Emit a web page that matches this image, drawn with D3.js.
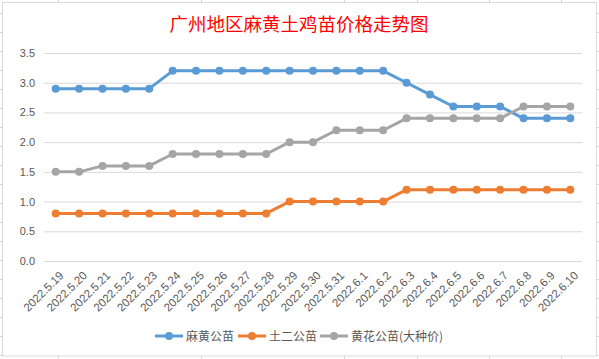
<!DOCTYPE html>
<html>
<head>
<meta charset="utf-8">
<script src="https://cdn.jsdelivr.net/npm/d3@7"></script>
<style>
  body { margin: 0; background: #fff; }
  svg { display: block; font-family: "Noto Sans CJK SC", "Noto Sans", sans-serif; }
</style>
</head>
<body>
<div class="chart-div"></div>
<script>
var dates = ['2022.5.19', '2022.5.20', '2022.5.21', '2022.5.22', '2022.5.23', '2022.5.24',
             '2022.5.25', '2022.5.26', '2022.5.27', '2022.5.28', '2022.5.29', '2022.5.30',
             '2022.5.31', '2022.6.1', '2022.6.2', '2022.6.3', '2022.6.4', '2022.6.5',
             '2022.6.6', '2022.6.7', '2022.6.8', '2022.6.9', '2022.6.10'];
var mahuang = [2.9, 2.9, 2.9, 2.9, 2.9, 3.2, 3.2, 3.2, 3.2, 3.2, 3.2, 3.2,
               3.2, 3.2, 3.2, 3.0, 2.8, 2.6, 2.6, 2.6, 2.4, 2.4, 2.4];
var tuer = [0.8, 0.8, 0.8, 0.8, 0.8, 0.8, 0.8, 0.8, 0.8, 0.8, 1.0, 1.0,
            1.0, 1.0, 1.0, 1.2, 1.2, 1.2, 1.2, 1.2, 1.2, 1.2, 1.2];
var huanghua = [1.5, 1.5, 1.6, 1.6, 1.6, 1.8, 1.8, 1.8, 1.8, 1.8, 2.0, 2.0,
                2.2, 2.2, 2.2, 2.4, 2.4, 2.4, 2.4, 2.4, 2.6, 2.6, 2.6];
var series_names = ['麻黄公苗', '土二公苗', '黄花公苗(大种价)'];
var y_ticks = [0, 0.5, 1.0, 1.5, 2.0, 2.5, 3.0, 3.5];
var title_text = '广州地区麻黄土鸡苗价格走势图';

var w = 599, h = 359,
    plot_left = 44, plot_right = 582,
    plot_top = 53, plot_bottom = 261,
    colours = ['#5B9BD5', '#ED7D31', '#A5A5A5'];

var svg = d3.select('.chart-div').append('svg')
    .attr('width', w)
    .attr('height', h);

// spreadsheet cells peeking out behind the chart
var row_lines = d3.range(13.5, h, 19);
svg.selectAll('.row-line').data(row_lines).enter().append('line')
    .attr('x1', 0).attr('x2', w)
    .attr('y1', function(d) { return d; }).attr('y2', function(d) { return d; })
    .attr('stroke', '#d5d5e0').attr('stroke-width', 1);
var col_lines = [58.5, 201.5, 344.5, 417.5, 489.5, 561.5];
svg.selectAll('.col-line').data(col_lines).enter().append('line')
    .attr('y1', 0).attr('y2', h)
    .attr('x1', function(d) { return d; }).attr('x2', function(d) { return d; })
    .attr('stroke', '#d5d5e0').attr('stroke-width', 1);

svg.append('rect')
    .attr('x', 2.5).attr('y', 2.5)
    .attr('width', 594).attr('height', 353.5)
    .attr('fill', '#fff')
    .attr('stroke', '#d9d9d9');

var x = d3.scalePoint()
    .domain(dates)
    .range([plot_left, plot_right])
    .padding(0.5);

var y = d3.scaleLinear()
    .domain([0, 3.5])
    .range([plot_bottom, plot_top]);

// gridlines
svg.append('g')
    .attr('transform', 'translate(' + plot_left + ',0)')
    .call(d3.axisLeft(y).tickValues(y_ticks).tickSize(-(plot_right - plot_left)).tickFormat(d3.format('.1f')))
    .call(function(g) {
      g.select('.domain').remove();
      g.selectAll('.tick line').attr('stroke', '#d9d9d9');
      g.selectAll('.tick text')
        .attr('x', -9)
        .attr('fill', '#595959')
        .style('font-size', '11px')
        .style('font-family', '"Liberation Sans", sans-serif');
    });

// x labels
svg.append('g')
    .attr('transform', 'translate(0,' + plot_bottom + ')')
    .call(d3.axisBottom(x).tickSize(0))
    .call(function(g) {
      g.select('.domain').remove();
      g.selectAll('.tick text')
        .attr('text-anchor', 'end')
        .attr('dy', 0)
        .attr('transform', 'translate(6,13) rotate(-45)')
        .attr('fill', '#595959')
        .style('font-size', '11.5px')
        .style('font-family', '"Liberation Sans", sans-serif');
    });

var all_series = [mahuang, tuer, huanghua];

var line = d3.line()
    .x(function(d, i) { return x(dates[i]); })
    .y(function(d) { return y(d); });

all_series.forEach(function(values, s) {
  svg.append('path')
    .datum(values)
    .attr('d', line)
    .attr('fill', 'none')
    .attr('stroke', colours[s])
    .attr('stroke-width', 3)
    .attr('stroke-linejoin', 'round');

  svg.selectAll('.dot-' + s).data(values).enter().append('circle')
    .attr('cx', function(d, i) { return x(dates[i]); })
    .attr('cy', function(d) { return y(d); })
    .attr('r', 4)
    .attr('fill', colours[s]);
});

// title
svg.append('text')
    .attr('x', 299)
    .attr('y', 31)
    .attr('text-anchor', 'middle')
    .attr('fill', '#FF0000')
    .style('font-size', '18.5px')
    .text(title_text);

// legend
var legend_x = [155, 238, 320];
var legend = svg.selectAll('.legend').data(series_names).enter().append('g')
    .attr('transform', function(d, i) { return 'translate(' + legend_x[i] + ',336)'; });
legend.append('line')
    .attr('x1', 0).attr('x2', 28)
    .attr('stroke', function(d, i) { return colours[i]; })
    .attr('stroke-width', 3);
legend.append('circle')
    .attr('cx', 14)
    .attr('r', 4)
    .attr('fill', function(d, i) { return colours[i]; });
legend.append('text')
    .attr('x', 31)
    .attr('y', 4.5)
    .attr('fill', '#595959')
    .style('font-size', '12px')
    .text(function(d) { return d; });
</script>
</body>
</html>
